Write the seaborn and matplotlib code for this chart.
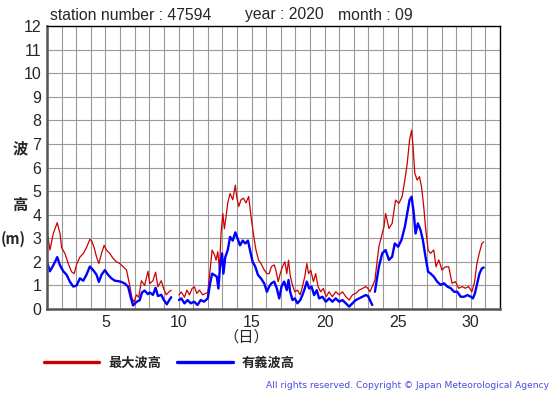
import numpy as np
import pandas as pd
import matplotlib
matplotlib.use("Agg")
import matplotlib.pyplot as plt
from matplotlib.lines import Line2D
import seaborn as sns

# station 47594, September 2020 -- wave height (NaN = no data)
max_days = [1.0, 1.2, 1.43, 1.7, 1.89, 2.0, 2.23, 2.45, 2.68, 2.86, 3.03, 3.25, 3.48, 3.7, 3.93,
            4.05, 4.23, 4.39, 4.55, 4.73, 4.91, 5.07, 5.3, 5.52, 5.75, 5.98, 6.2, 6.44, 6.66, 6.82,
            6.96, 7.12, 7.28, 7.46, 7.68, 7.91, 8.03, 8.25, 8.43, 8.59, 8.82, 8.98, 9.16, 9.34, 9.5,
            9.75, 10.03, 10.19, 10.41, 10.57, 10.75, 10.93, 11.09, 11.25, 11.43, 11.66, 11.84, 12.0,
            12.16, 12.3, 12.46, 12.57, 12.69, 12.8, 12.91, 13.03, 13.14, 13.25, 13.37, 13.53, 13.71,
            13.89, 13.98, 14.12, 14.28, 14.44, 14.62, 14.8, 14.96, 15.12, 15.3, 15.48, 15.64, 15.87,
            16.05, 16.2, 16.36, 16.55, 16.66, 16.82, 16.96, 17.12, 17.28, 17.41, 17.53, 17.64, 17.8,
            17.96, 18.14, 18.33, 18.48, 18.64, 18.78, 18.9, 19.05, 19.23, 19.39, 19.55, 19.73, 19.91,
            20.1, 20.3, 20.53, 20.76, 20.99, 21.22, 21.45, 21.68, 21.9, 22.13, 22.36, 22.58, 22.81,
            22.97, 23.1, 23.26, 23.44, 23.71, 24.06, 24.17, 24.4, 24.62, 24.85, 25.08, 25.3, 25.49,
            25.65, 25.81, 25.95, 26.05, 26.17, 26.33, 26.49, 26.63, 26.78, 26.9, 27.08, 27.24, 27.47,
            27.62, 27.81, 28.03, 28.26, 28.49, 28.72, 28.95, 29.17, 29.4, 29.63, 29.85, 30.08, 30.26,
            30.42, 30.58, 30.76, 30.88]
max_wave = [3.35, 2.5, 3.2, 3.66, 3.2, 2.6, 2.35, 1.93, 1.58, 1.5, 1.9, 2.2, 2.35, 2.6, 2.95,
            2.9, 2.6, 2.2, 1.93, 2.35, 2.7, 2.5, 2.35, 2.15, 2.0, 1.93, 1.8, 1.65, 1.0, 0.45,
            0.3, 0.6, 0.5, 1.2, 1.0, 1.6, 1.08, 1.2, 1.56, 0.94, 1.2, 0.87, 0.6, 0.72, 0.8,
            np.nan, 0.6, 0.72, 0.5, 0.8, 0.6, 0.87, 0.94, 0.66, 0.8, 0.6, 0.66, 0.7,
            1.65, 2.5, 2.3, 2.07, 2.43, 1.65, 3.2, 4.05, 3.4, 3.9, 4.5, 4.9, 4.63,
            5.25, 4.77, 4.35, 4.63, 4.7, 4.5, 4.77, 3.93, 3.2, 2.5, 2.07, 1.93, 1.65,
            1.5, 1.5, 1.8, 1.87, 1.65, 1.16, 1.5, 1.8, 2.0, 1.5, 2.07, 1.43, 1.0,
            0.73, 0.8, 0.6, 0.95, 1.37, 1.93, 1.5, 1.65, 1.16, 1.5, 0.95, 0.73, 0.87,
            0.52, 0.73, 0.52, 0.73, 0.6, 0.73, 0.52, 0.38, 0.6, 0.66, 0.8, 0.87, 0.95,
            0.87, 0.73, 0.95, 1.23, 2.64, 3.49, 4.05, 3.42, 3.63, 4.62, 4.48, 4.76, 5.47,
            6.17, 7.16, 7.58, 6.88, 5.75, 5.47, 5.61, 5.18, 4.34, 3.49, 2.5, 2.36, 2.5,
            1.79, 2.08, 1.65, 1.79, 1.79, 1.09, 1.16, 0.88, 0.95, 0.88, 0.95, 0.73, 1.16,
            1.93, 2.36, 2.78, 2.85]

sig_days = [1.0, 1.2, 1.43, 1.7, 1.89, 2.12, 2.34, 2.57, 2.8, 3.03, 3.25, 3.48, 3.7, 3.93, 4.16,
            4.39, 4.55, 4.73, 4.96, 5.18, 5.41, 5.64, 5.87, 6.09, 6.32, 6.55, 6.73, 6.89, 7.12, 7.34,
            7.5, 7.68, 7.91, 8.03, 8.25, 8.43, 8.59, 8.82, 8.98, 9.2, 9.34, 9.5,
            9.75, 10.03, 10.19, 10.41, 10.62, 10.84, 11.07, 11.3, 11.52, 11.75, 12.0,
            12.16, 12.3, 12.46, 12.62, 12.73, 12.84, 12.98, 13.07, 13.2, 13.37, 13.53, 13.71, 13.89,
            14.05, 14.21, 14.39, 14.57, 14.75, 14.89, 15.07, 15.25, 15.44, 15.64, 15.87,
            16.05, 16.2, 16.36, 16.55, 16.73, 16.89, 17.05, 17.23, 17.41, 17.53, 17.64, 17.8, 17.96,
            18.14, 18.33, 18.48, 18.64, 18.78, 18.94, 19.1, 19.28, 19.46, 19.62, 19.85, 20.08, 20.3,
            20.53, 20.76, 20.99, 21.22, 21.45, 21.68, 21.9, 22.13, 22.36, 22.58, 22.81, 22.97, 23.15,
            23.26, 23.35, 23.44, 23.71, 23.94, 24.17, 24.4, 24.62, 24.8, 25.03, 25.26, 25.49, 25.65,
            25.81, 25.95, 26.1, 26.22, 26.38, 26.56, 26.72, 26.9, 27.08, 27.24, 27.47, 27.7, 27.94,
            28.17, 28.4, 28.63, 28.86, 29.08, 29.31, 29.54, 29.77, 30.0, 30.15, 30.28, 30.44, 30.6,
            30.76, 30.88]
sig_wave = [2.0, 1.6, 1.85, 2.2, 1.85, 1.6, 1.45, 1.15, 0.95, 1.0, 1.3, 1.2, 1.45, 1.8, 1.65,
            1.45, 1.15, 1.45, 1.65, 1.45, 1.3, 1.2, 1.18, 1.15, 1.08, 0.95, 0.5, 0.15, 0.3, 0.37,
            0.7, 0.78, 0.63, 0.7, 0.6, 0.9, 0.55, 0.6, 0.4, 0.2, 0.35, 0.5,
            np.nan, 0.38, 0.45, 0.24, 0.38, 0.24, 0.31, 0.17, 0.38, 0.31, 0.45,
            1.08, 1.5, 1.44, 1.37, 0.87, 1.8, 2.36, 1.5, 2.2, 2.5, 3.06, 2.9, 3.25,
            2.97, 2.7, 2.9, 2.78, 2.9, 2.5, 2.0, 1.8, 1.44, 1.3, 1.08,
            0.73, 0.95, 1.09, 1.16, 0.87, 0.45, 0.95, 1.16, 0.8, 1.23, 0.73, 0.38, 0.45,
            0.24, 0.38, 0.59, 0.87, 1.16, 0.87, 0.95, 0.59, 0.8, 0.45, 0.52, 0.31, 0.45,
            0.31, 0.45, 0.31, 0.38, 0.24, 0.1, 0.24, 0.38, 0.45, 0.52, 0.59, 0.55, 0.31,
            0.17, np.nan, 0.73, 1.79, 2.36, 2.5, 2.08, 2.22, 2.78, 2.64, 2.93, 3.49, 4.05,
            4.62, 4.76, 4.05, 3.2, 3.63, 3.35, 2.93, 2.22, 1.58, 1.51, 1.37, 1.16, 1.02,
            1.09, 0.95, 0.88, 0.73, 0.73, 0.52, 0.52, 0.59, 0.52, 0.45, 0.66, 1.09, 1.51,
            1.72, 1.76]


def to_frame(days, vals):
    df = pd.DataFrame({"day": days, "h": vals})
    # new segment after each missing value, so the line breaks there
    df["seg"] = df["h"].isna().cumsum()
    return df.dropna()


max_df = to_frame(max_days, max_wave)
sig_df = to_frame(sig_days, sig_wave)

sns.set_style("white")
plt.rcParams["font.family"] = ["Liberation Sans", "DejaVu Sans"]

fig = plt.figure(figsize=(5.55, 3.95), dpi=100)
ax = fig.add_axes([47 / 555, 1 - 309 / 395, 453 / 555, 283 / 395])

red = "#cc0000"
blue = "#0000ff"
sns.lineplot(data=max_df, x="day", y="h", units="seg", estimator=None,
             color=red, lw=0.9, ax=ax, legend=False)
sns.lineplot(data=sig_df, x="day", y="h", units="seg", estimator=None,
             color=blue, lw=1.7, ax=ax, legend=False)

ax.set_xlim(1, 32)
ax.set_ylim(0, 12)
ax.set_xticks([5, 10, 15, 20, 25, 30])
ax.set_xticks(range(1, 33), minor=True)
ax.set_yticks(range(0, 13))
ax.grid(True, which="both", color="#999999", lw=0.8)
ax.set_axisbelow(True)
ax.tick_params(axis="both", which="both", length=0, labelsize=11.5, pad=4)
ax.set_xlabel("")
ax.set_ylabel("")
for s in ["top", "right"]:
    ax.spines[s].set_color("black")
    ax.spines[s].set_linewidth(1.0)
for s in ["left", "bottom"]:
    ax.spines[s].set_color("#555555")
    ax.spines[s].set_linewidth(1.8)

# header
fig.text(50 / 555, 1 - 15 / 395, "station number : 47594", fontsize=11.3, va="center")
fig.text(245 / 555, 1 - 15 / 395, "year : 2020", fontsize=11.3, va="center")
fig.text(338 / 555, 1 - 15 / 395, "month : 09", fontsize=11.3, va="center")

jp = ["Noto Sans CJK JP", "DejaVu Sans"]
fig.text(20 / 555, 1 - 148 / 395, "波", family=jp, fontsize=11, weight="bold",
         ha="center", va="center")
fig.text(20 / 555, 1 - 205 / 395, "高", family=jp, fontsize=11, weight="bold",
         ha="center", va="center")
fig.text(13 / 555, 1 - 239 / 395, "(m)", family=jp, fontsize=10.5, weight="bold",
         ha="center", va="center")
fig.text(246 / 555, 1 - 337 / 395, "（日）", family=jp, fontsize=11, ha="center", va="center")

handles = [Line2D([], [], color=red, lw=2.4), Line2D([], [], color=blue, lw=2.4)]
fig.legend(handles, ["最大波高", "有義波高"], loc="center left",
           bbox_to_anchor=(32 / 555, 1 - 363 / 395), ncol=2, frameon=False,
           handlelength=4.2, handletextpad=0.7, columnspacing=1.2,
           prop={"family": jp, "size": 9.5, "weight": "bold"})

fig.text(549 / 555, 1 - 385 / 395,
         "All rights reserved. Copyright © Japan Meteorological Agency",
         family="DejaVu Sans", fontsize=6.6, color="#4a4ae0", ha="right", va="center")

fig.savefig("out.png", dpi=100)
